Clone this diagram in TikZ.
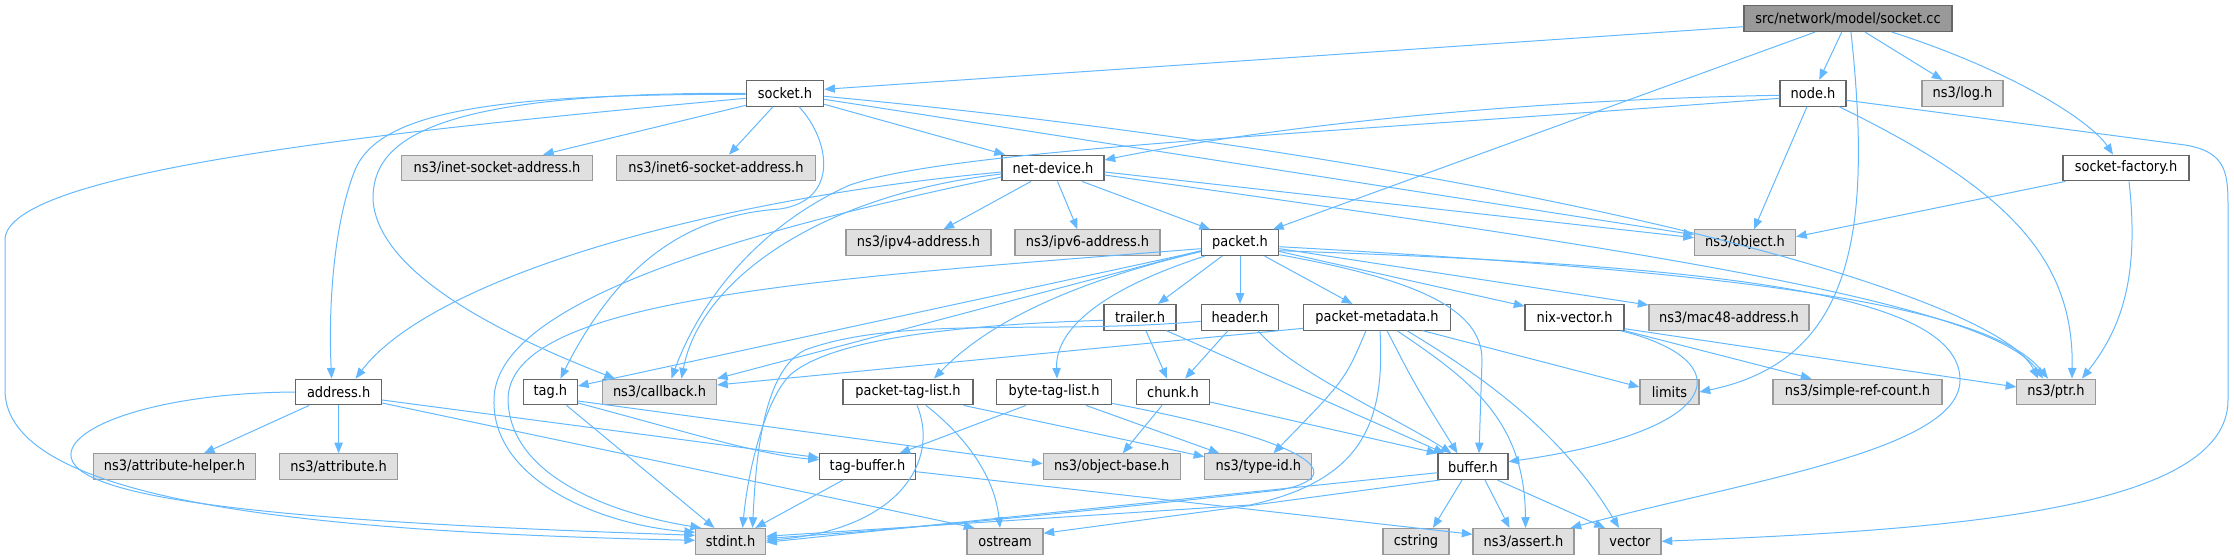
\documentclass[tikz,border=0pt]{standalone}
\usepackage{fontspec}
\usetikzlibrary{arrows.meta,calc}
\newfontfamily\dvfont{DejaVu Sans Condensed}
\definecolor{edgec}{HTML}{63B8FF}
\definecolor{bordc}{HTML}{666666}
\definecolor{extbord}{HTML}{999999}
\definecolor{extfill}{HTML}{E0E0E0}
\definecolor{rootfill}{HTML}{999999}
\tikzset{
  nbox/.style={draw=bordc, fill=white, line width=0.8pt, minimum height=19.3pt, inner sep=0pt, font={\dvfont\fontsize{10.8pt}{12pt}\selectfont}, text=black},
  ext/.style={nbox, draw=extbord, fill=extfill},
  rootbox/.style={nbox, draw=bordc, fill=rootfill},
  wd/.style={minimum width=#1*0.75pt},
  dep/.style={draw=edgec, line width=0.75pt, -{Triangle[length=8pt,width=6.3pt]}}
}
\begin{document}
\begin{tikzpicture}[x=0.75pt,y=-0.75pt]
\useasboundingbox (0,0) rectangle (2234,560);
% nodes
\node[rootbox,wd=208] (cc) at (1848,18.7) {src/network/model/socket.cc};
\node[nbox,wd=77.5] (sock) at (785,93.3) {socket.h};
\node[nbox,wd=66] (nodeh) at (1813,93.3) {node.h};
\node[ext,wd=81] (logh) at (1962.5,93.3) {ns3/log.h};
\node[nbox,wd=126] (sf) at (2126,168) {socket-factory.h};
\node[ext,wd=190.5] (inet) at (497,168) {ns3/inet-socket-address.h};
\node[ext,wd=199] (inetsix) at (716,168) {ns3/inet6-socket-address.h};
\node[nbox,wd=102] (nd) at (1053,168) {net-device.h};
\node[ext,wd=145] (ipvfour) at (918.5,242.7) {ns3/ipv4-address.h};
\node[ext,wd=145] (ipvsix) at (1087.5,242.7) {ns3/ipv6-address.h};
\node[nbox,wd=77.5] (pkt) at (1240,242.7) {packet.h};
\node[ext,wd=101] (obj) at (1745,242.7) {ns3/object.h};
\node[nbox,wd=72] (trl) at (1140,317.3) {trailer.h};
\node[nbox,wd=77.5] (hdr) at (1240,317.3) {header.h};
\node[nbox,wd=146.5] (meta) at (1377,317.3) {packet-metadata.h};
\node[nbox,wd=99] (nix) at (1574.5,317.3) {nix-vector.h};
\node[ext,wd=160] (mac) at (1729,317.3) {ns3/mac48-address.h};
\node[nbox,wd=86] (addr) at (338.6,392) {address.h};
\node[nbox,wd=54] (tagh) at (550.4,392) {tag.h};
\node[ext,wd=114] (cb) at (659.5,392) {ns3/callback.h};
\node[nbox,wd=130] (ptl) at (908,392) {packet-tag-list.h};
\node[nbox,wd=115.4] (btl) at (1054,392) {byte-tag-list.h};
\node[nbox,wd=73] (chunk) at (1173,392) {chunk.h};
\node[ext,wd=59] (lim) at (1669.5,392) {limits};
\node[ext,wd=169] (src) at (1857.5,392) {ns3/simple-ref-count.h};
\node[ext,wd=78.3] (ptr) at (2056,392) {ns3/ptr.h};
\node[ext,wd=162] (attrh) at (174.5,466.7) {ns3/attribute-helper.h};
\node[ext,wd=118] (attr) at (338.6,466.7) {ns3/attribute.h};
\node[nbox,wd=96] (tagbuf) at (867.5,466.7) {tag-buffer.h};
\node[ext,wd=137] (objb) at (1111.7,466.7) {ns3/object-base.h};
\node[ext,wd=107] (tid) at (1258.4,466.7) {ns3/type-id.h};
\node[nbox,wd=70] (buf) at (1473,466.7) {buffer.h};
\node[ext,wd=70] (stdint) at (730.6,541.3) {stdint.h};
\node[ext,wd=76] (ostr) at (1005,541.3) {ostream};
\node[ext,wd=66] (cstr) at (1416,541.3) {cstring};
\node[ext,wd=101] (assrt) at (1523.5,541.3) {ns3/assert.h};
\node[ext,wd=62] (vec) at (1630,541.3) {vector};
% socket.cc
\draw[dep] ($(cc.west)+(0,8)$) -- ($(sock.east)+(0,-4)$);
\draw[dep] (cc) -- (nodeh);
\draw[dep] ($(cc.south)+(17,0)$) -- ($(logh.north)+(-20,0)$);
\draw[dep] ($(cc.south)+(44,0)$) .. controls (2010,70) and (2090,120) .. ($(sf.north)+(-13,0)$);
\draw[dep] ($(cc.south)+(-33,0)$) -- ($(pkt.north)+(33,0)$);
\draw[dep] ($(cc.south)+(3,0)$) .. controls (1872,230) and (1855,360) .. (lim.east);
% socket.h
\draw[dep] ($(sock.west)+(0,1)$) .. controls (500,94) and (380,110) .. (355,170) .. controls (335,220) and (328,300) .. ($(addr.north)+(-7,0)$);
\draw[dep] ($(sock.west)+(0,0)$) .. controls (430,92) and (372,140) .. (373,200) .. controls (378,270) and (490,330) .. ($(cb.north west)+(13,0)$);
\draw[dep] ($(sock.west)+(0,12)$) -- ($(inet.north)+(46,0)$);
\draw[dep] ($(sock.south)+(-12,0)$) -- ($(inetsix.north)+(13,0)$);
\draw[dep] ($(sock.east)+(0,11)$) -- ($(nd.north)+(-48,0)$);
\draw[dep] ($(sock.east)+(0,6)$) -- ($(obj.west)+(0,-8)$);
\draw[dep] ($(sock.east)+(0,3)$) .. controls (1500,160) and (1995,290) .. ($(ptr.north)+(-18,0)$);
\draw[dep] ($(sock.west)+(0,5)$) .. controls (400,130) and (5,170) .. (5,240) -- (5,390) .. controls (5,500) and (300,532) .. ($(stdint.west)+(0,-1)$);
\draw[dep] ($(sock.south)+(14,0)$) .. controls (830,140) and (840,200) .. (780,209) .. controls (690,215) and (620,260) .. ($(tagh.north)+(10,0)$);
% node.h
\draw[dep] ($(nodeh.west)+(0,2)$) .. controls (1500,100) and (1250,130) .. ($(nd.east)+(0,-8)$);
\draw[dep] ($(nodeh.west)+(0,5)$) .. controls (1300,135) and (950,150) .. (850,185) .. controls (760,225) and (700,300) .. ($(cb.north)+(12,0)$);
\draw[dep] ($(nodeh.south)+(-6,0)$) -- ($(obj.north)+(9,0)$);
\draw[dep] ($(nodeh.south)+(26,0)$) .. controls (2010,190) and (2074,260) .. ($(ptr.north)+(16,0)$);
\draw[dep] ($(nodeh.east)+(0,7)$) -- (2185,145) .. controls (2228,152) and (2228,175) .. (2228,210) -- (2228,400) .. controls (2228,510) and (1950,530) .. (vec.east);
% socket-factory.h
\draw[dep] ($(sf.south west)+(3,0)$) -- ($(obj.east)+(0,-6)$);
\draw[dep] ($(sf.south)+(3,0)$) .. controls (2140,280) and (2120,330) .. ($(ptr.north)+(26,0)$);
% net-device.h
\draw[dep] ($(nd.west)+(0,4)$) .. controls (700,200) and (430,280) .. ($(addr.north)+(17,0)$);
\draw[dep] ($(nd.west)+(0,6)$) .. controls (820,195) and (700,280) .. ($(cb.north)+(22,0)$);
\draw[dep] ($(nd.south)+(-22,0)$) -- ($(ipvfour.north)+(25,0)$);
\draw[dep] ($(nd.south)+(4.5,0)$) -- ($(ipvsix.north)+(-10,0)$);
\draw[dep] ($(nd.east)+(0,4)$) -- ($(obj.west)+(0,-5)$);
\draw[dep] ($(nd.south)+(29,0)$) -- ($(pkt.north)+(-30,0)$);
\draw[dep] ($(nd.east)+(0,7)$) .. controls (1600,245) and (1990,300) .. ($(ptr.north)+(-13,0)$);
\draw[dep] ($(nd.west)+(0,9)$) .. controls (750,230) and (494,300) .. (494,400) .. controls (492,480) and (600,525) .. ($(stdint.west)+(0,-9)$);
% packet.h
\draw[dep] ($(pkt.east)+(0,12)$) .. controls (1420,280) and (1482,310) .. (1482,360) -- ($(buf.north)+(6,0)$);
\draw[dep] ($(pkt.south west)+(4,0)$) .. controls (1100,290) and (1055,330) .. ($(btl.north)+(3,0)$);
\draw[dep] ($(pkt.west)+(0,9)$) .. controls (1080,280) and (990,320) .. ($(ptl.north)+(26,0)$);
\draw[dep] (pkt) -- (hdr);
\draw[dep] (pkt) -- (nix);
\draw[dep] (pkt) -- (meta);
\draw[dep] (pkt) -- (tagh);
\draw[dep] (pkt) -- (trl);
\draw[dep] ($(pkt.east)+(0,8)$) .. controls (1700,265) and (1960,290) .. (1960,380) .. controls (1960,450) and (1750,480) .. ($(assrt.north east)+(-4,0)$);
\draw[dep] ($(pkt.west)+(0,8)$) -- (cb.north east);
\draw[dep] (pkt) -- (mac);
\draw[dep] ($(pkt.east)+(0,4)$) .. controls (1700,270) and (1985,300) .. ($(ptr.north)+(-8,0)$);
\draw[dep] ($(pkt.west)+(0,6)$) .. controls (800,280) and (508,300) .. (508,400) .. controls (510,480) and (620,515) .. ($(stdint.north west)+(6,0)$);
% trailer.h / header.h
\draw[dep] (trl) -- (chunk);
\draw[dep] ($(trl.south east)+(-10,0)$) -- ($(buf.north west)+(7,0)$);
\draw[dep] ($(trl.west)+(0,3)$) .. controls (950,325) and (830,340) .. (790,375) .. controls (765,400) and (748,470) .. ($(stdint.north)+(12,0)$);
\draw[dep] (hdr) -- (chunk);
\draw[dep] ($(hdr.south)+(18,0)$) .. controls (1290,370) and (1400,420) .. ($(buf.north west)+(14,0)$);
\draw[dep] ($(hdr.west)+(0,4)$) .. controls (1050,335) and (900,315) .. (805,350) .. controls (765,370) and (756,450) .. ($(stdint.north)+(22,0)$);
% packet-metadata.h
\draw[dep] ($(meta.west)+(0,11)$) -- ($(cb.east)+(0,-7)$);
\draw[dep] ($(meta.south east)+(-28,0)$) -- ($(lim.west)+(0,-5)$);
\draw[dep] ($(meta.south)+(-11,0)$) .. controls (1345,380) .. ($(tid.north)+(15,0)$);
\draw[dep] ($(meta.south)+(10,0)$) .. controls (1415,385) .. ($(buf.north west)+(20,0)$);
\draw[dep] ($(meta.south)+(3,0)$) .. controls (1385,420) and (1365,480) .. (1250,505) -- ($(stdint.east)+(0,-5)$);
\draw[dep] ($(meta.south)+(20,0)$) .. controls (1470,380) and (1525,420) .. ($(assrt.north)+(2,0)$);
\draw[dep] ($(meta.south)+(30,0)$) .. controls (1480,375) and (1560,430) .. ($(vec.north)+(-11,0)$);
% nix-vector.h
\draw[dep] ($(nix.south east)+(-4,0)$) .. controls (1740,360) and (1730,430) .. ($(buf.east)+(0,-5)$);
\draw[dep] ($(nix.south east)+(0,-2)$) -- ($(ptr.west)+(0,-5)$);
\draw[dep] (nix.south east) -- ($(src.north west)+(39,0)$);
% address.h
\draw[dep] (addr) -- (attrh);
\draw[dep] (addr) -- (attr);
\draw[dep] ($(addr.east)+(0,11)$) -- ($(ostr.north west)+(8,0)$);
\draw[dep] (addr.west) .. controls (150,393) and (60,430) .. (72,460) .. controls (90,510) and (400,525) .. ($(stdint.west)+(0,-6)$);
\draw[dep] ($(addr.east)+(0,8)$) -- ($(tagbuf.west)+(0,-9)$);
% tag.h
\draw[dep] ($(tagh.east)+(0,9)$) -- ($(objb.west)+(0,-3)$);
\draw[dep] ($(tagh.east)+(0,11)$) .. controls (680,430) and (760,455) .. ($(tagbuf.west)+(0,-7)$);
\draw[dep] (tagh) -- (stdint);
% packet-tag-list.h
\draw[dep] ($(ptl.south)+(18,0)$) .. controls (970,440) and (995,480) .. ($(ostr.north)+(-5,0)$);
\draw[dep] ($(ptl.south)+(9,0)$) .. controls (940,460) and (900,530) .. ($(stdint.east)+(0,-1)$);
\draw[dep] ($(ptl.south east)+(-10,0)$) -- ($(tid.west)+(0,-10)$);
% byte-tag-list.h
\draw[dep] ($(btl.south)+(-28,0)$) -- ($(tagbuf.north)+(32,0)$);
\draw[dep] ($(btl.south)+(32,0)$) -- ($(tid.north west)+(15,0)$);
\draw[dep] ($(btl.south east)+(0,-2)$) .. controls (1330,445) and (1345,478) .. (1280,490) .. controls (1100,510) and (900,530) .. ($(stdint.east)+(0,-3)$);
% chunk.h
\draw[dep] ($(chunk.east)+(0,10)$) -- (buf.north west);
\draw[dep] ($(chunk.south)+(-11,0)$) -- ($(objb.north)+(11,0)$);
% tag-buffer.h
\draw[dep] (tagbuf) -- (stdint);
\draw[dep] ($(tagbuf.east)+(0,5)$) -- ($(assrt.west)+(0,-7)$);
% buffer.h
\draw[dep] ($(buf.west)+(0,6)$) -- ($(stdint.east)+(0,1)$);
\draw[dep] ($(buf.south west)+(2,0)$) -- ($(ostr.east)+(0,-8)$);
\draw[dep] ($(buf.south)+(-11,0)$) -- ($(cstr.north)+(17,0)$);
\draw[dep] ($(buf.south)+(12,0)$) -- ($(assrt.north)+(-14,0)$);
\draw[dep] ($(buf.south east)+(-11,0)$) -- ($(vec.north)+(-25,0)$);
\end{tikzpicture}
\end{document}
